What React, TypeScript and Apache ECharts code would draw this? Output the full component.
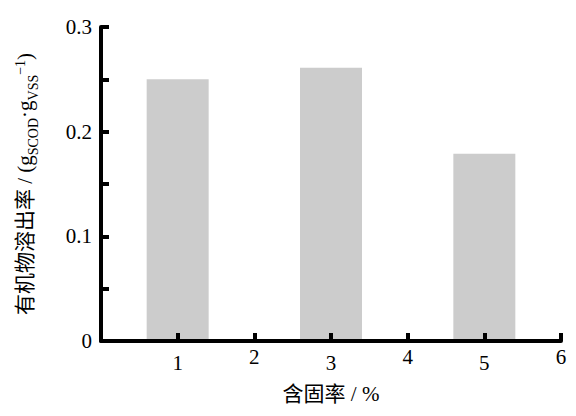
import React, { useEffect, useRef } from "react";
import * as echarts from "echarts";

const xValues = [1, 3, 5];
const rates = [0.25, 0.261, 0.179];
const xTicks = [0, 1, 2, 3, 4, 5, 6];
const yTicks = [0, 0.1, 0.2, 0.3];

const FONT = "'Liberation Serif', 'Times New Roman', 'Noto Sans CJK SC', serif";
const INK = "#000000";

export default function App() {
  const ref = useRef<HTMLDivElement>(null);
  useEffect(() => {
    if (!ref.current) return;
    const chart = echarts.init(ref.current, undefined, { renderer: "svg" });
    chart.setOption({
      animation: false,
      grid: { left: 101, right: 15, top: 27, bottom: 75 },
      xAxis: {
        type: "value",
        z: 10,
        min: xTicks[0],
        max: xTicks[xTicks.length - 1],
        interval: 1,
        name: "含固率 / %",
        nameLocation: "middle",
        nameGap: 42,
        nameTextStyle: { fontFamily: FONT, fontSize: 21, color: "#000" },
        axisLine: { show: true, onZero: false, lineStyle: { color: INK, width: 4 } },
        axisTick: { show: true, inside: true, length: 8, lineStyle: { color: INK, width: 4 } },
        splitLine: { show: false },
        axisLabel: {
          margin: 5,
          formatter: (v: number) => (v === 0 ? "" : v % 2 === 1 ? `{odd|${v}}` : `{even|${v}}`),
          rich: {
            odd: { fontFamily: FONT, fontSize: 21, color: "#000", padding: [7, 0, 0, 0] },
            even: { fontFamily: FONT, fontSize: 21, color: "#000", padding: [0, 0, 7, 0] },
          },
        },
      },
      yAxis: {
        type: "value",
        z: 10,
        min: yTicks[0],
        max: yTicks[yTicks.length - 1],
        interval: 0.1,
        name:
          "{n|有机物溶出率 / (g}{sub|SCOD}{n|·g}{sub|VSS}{sup|−1}{n|)}",
        nameLocation: "middle",
        nameRotate: 90,
        nameGap: 64,
        nameTextStyle: {
          rich: {
            n: { fontFamily: FONT, fontSize: 21, color: "#000", lineHeight: 24, verticalAlign: "middle" },
            sub: { fontFamily: FONT, fontSize: 14, color: "#000", verticalAlign: "bottom", lineHeight: 14, padding: [0, 0, -3, 0] },
            sup: { fontFamily: FONT, fontSize: 14, color: "#000", verticalAlign: "top", lineHeight: 14, padding: [0, 0, 0, 0] },
          },
        },
        axisLine: { show: true, lineStyle: { color: INK, width: 4 } },
        axisTick: { show: true, inside: true, length: 8, lineStyle: { color: INK, width: 4 } },
        minorTick: { show: true, splitNumber: 2, length: 8, lineStyle: { color: INK, width: 4 } },
        splitLine: { show: false },
        axisLabel: {
          fontFamily: FONT,
          fontSize: 21,
          color: "#000",
          margin: 9,
          formatter: (v: number) => (v === 0 ? "0" : v.toFixed(1)),
        },
      },
      series: [
        {
          type: "bar",
          z: 1,
          data: xValues.map((x, i) => [x, rates[i]]),
          barWidth: 62,
          itemStyle: { color: "#cccccc" },
        },
      ],
    });
    return () => chart.dispose();
  }, []);
  return <div ref={ref} style={{ width: 576, height: 416, position: "absolute", left: 0, top: 0, background: "#fff" }} />;
}
